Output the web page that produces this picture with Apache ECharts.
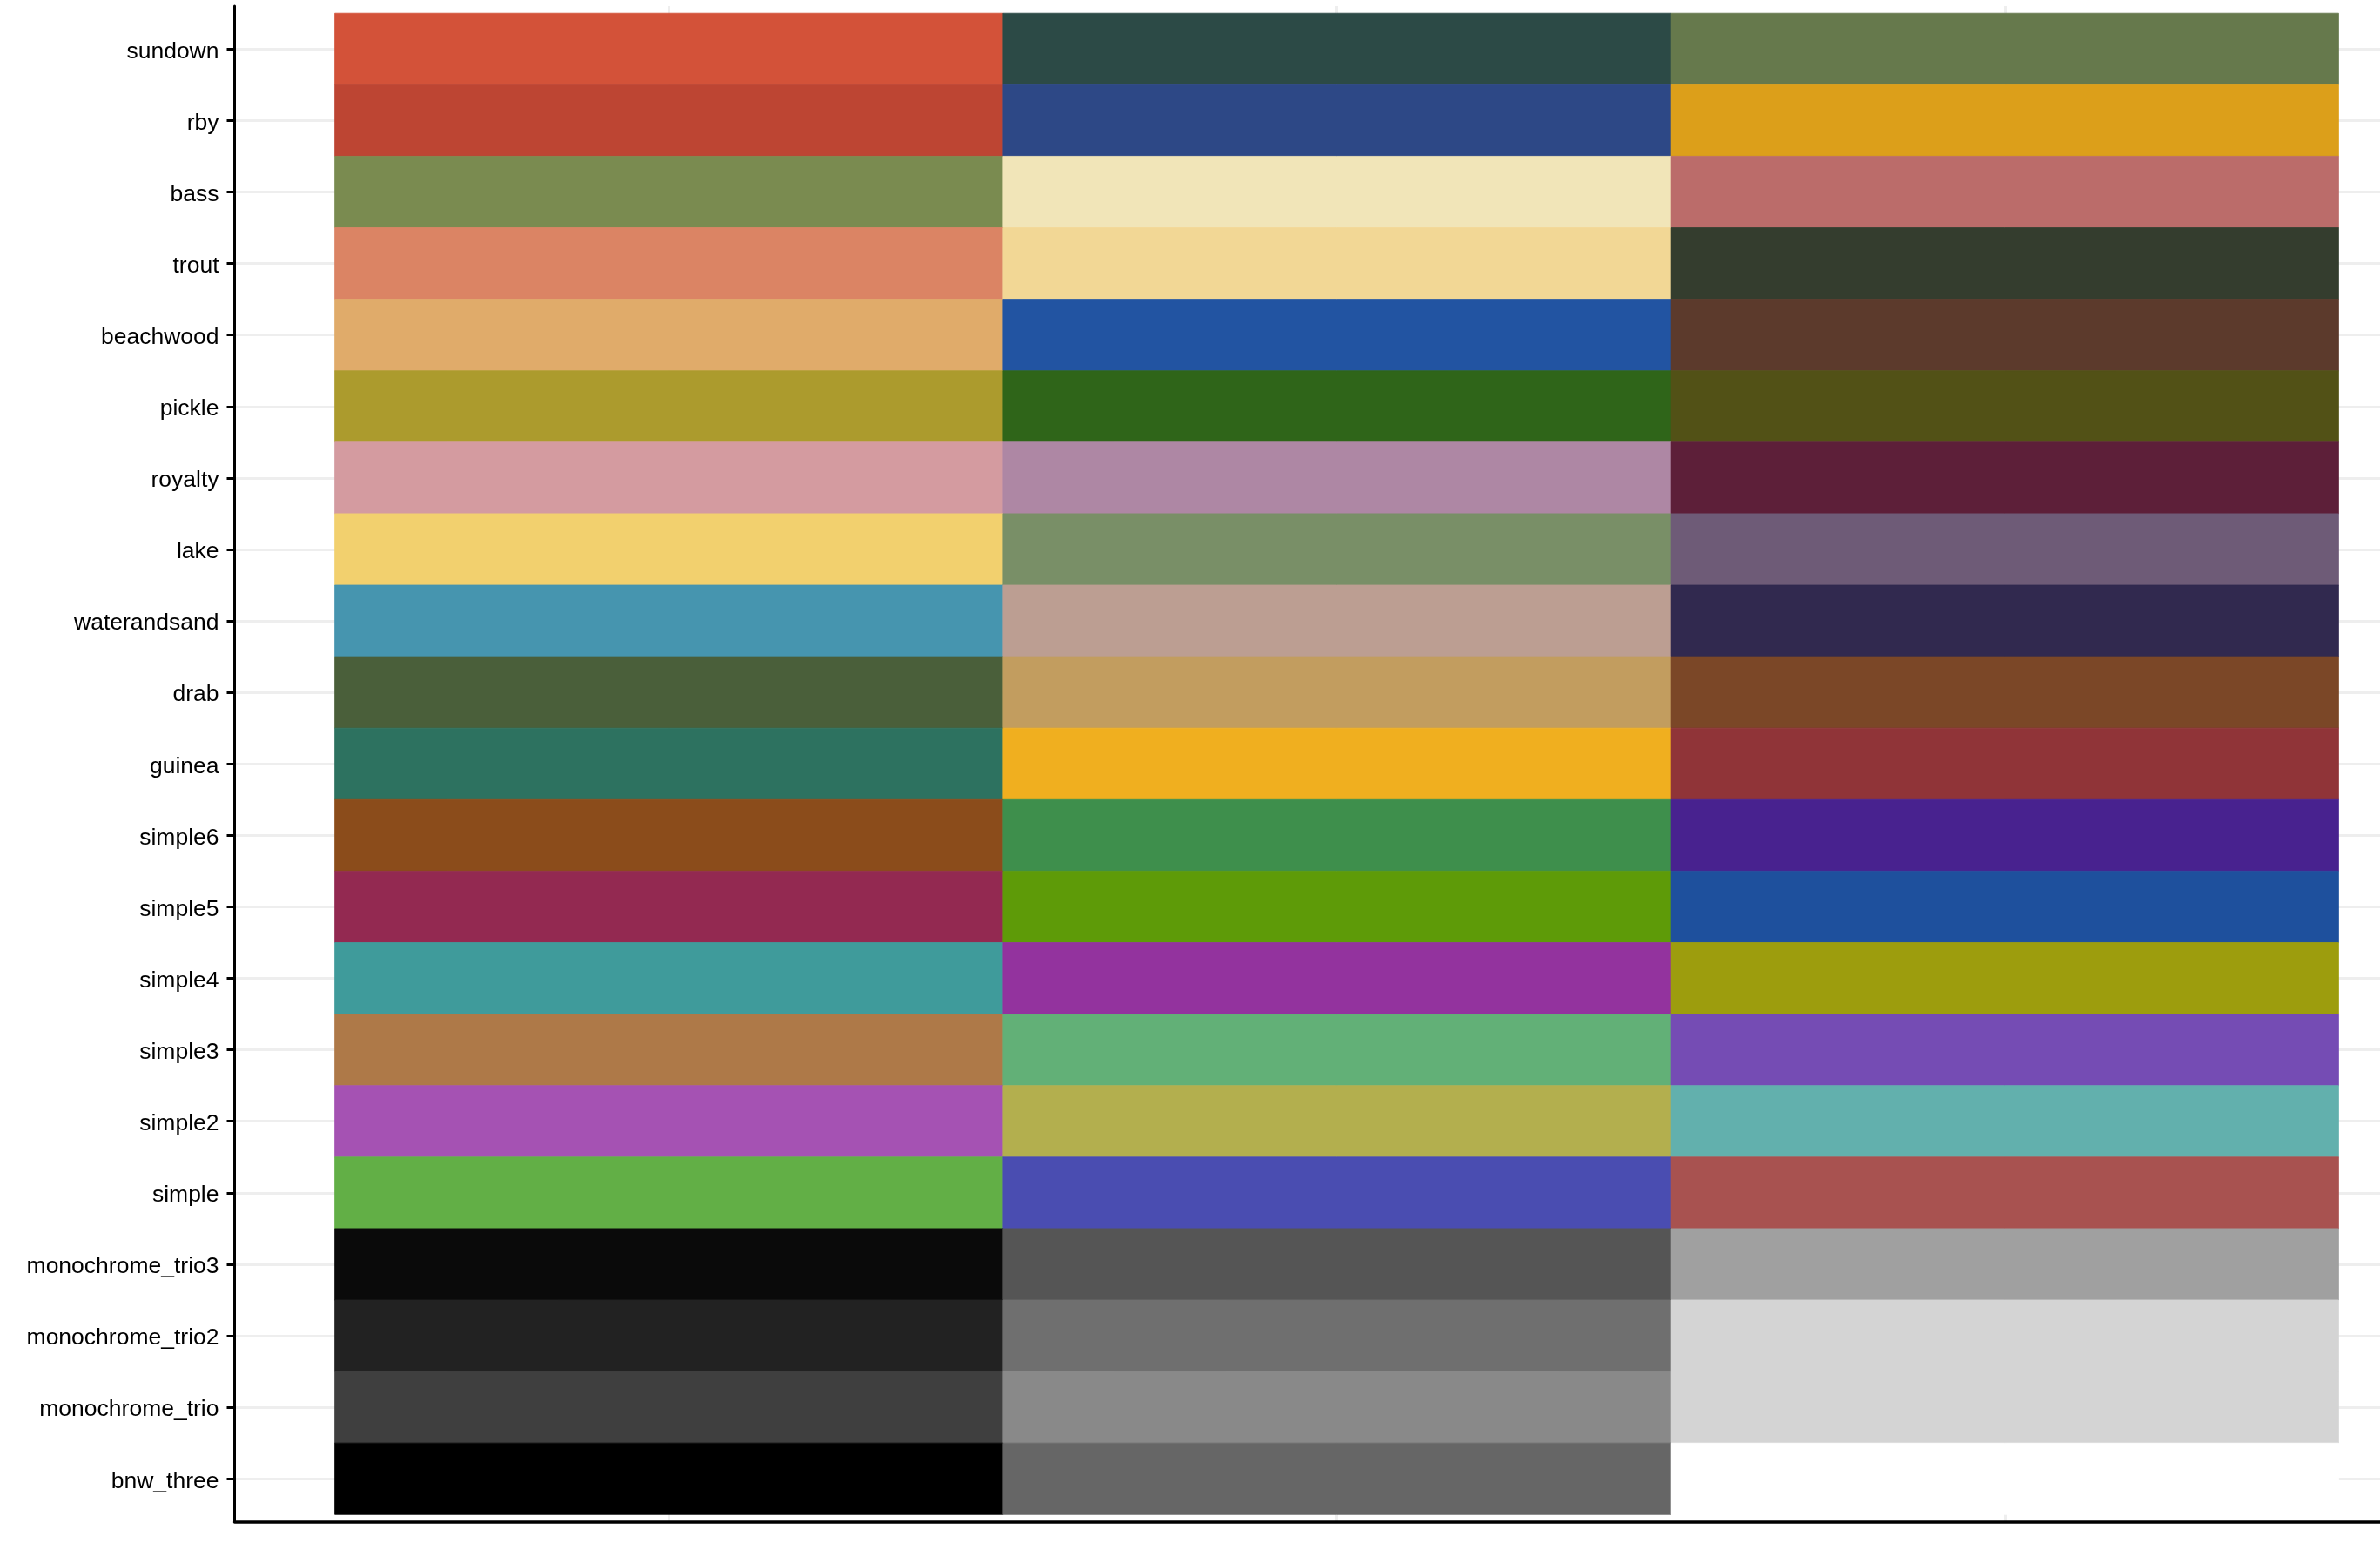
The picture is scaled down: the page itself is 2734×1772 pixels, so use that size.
<!DOCTYPE html>
<html>
<head>
<meta charset="utf-8">
<script src="https://cdn.jsdelivr.net/npm/echarts@6/dist/echarts.min.js"></script>
<style>
html,body{margin:0;padding:0;background:#fff;}
#chart{width:2734px;height:1772px;}
</style>
</head>
<body>
<div id="chart"></div>
<script>
// Palette names, top to bottom as shown
const palettes = ["sundown","rby","bass","trout","beachwood","pickle","royalty","lake",
  "waterandsand","drab","guinea","simple6","simple5","simple4","simple3","simple2",
  "simple","monochrome_trio3","monochrome_trio2","monochrome_trio","bnw_three"];
// Colour of each palette's 1st, 2nd and 3rd swatch
const color1 = ["#D35239","#BD4533","#7A8B50","#DB8464","#E0AB6A","#AC9B2D","#D49BA0","#F2D06E",
  "#4695AF","#4A5F3A","#2D7260","#8B4C1B","#932951","#3F9B9B","#AE7948","#A552B3",
  "#62AF46","#0A0A0A","#222222","#3F3F3F","#000000"];
const color2 = ["#2C4A46","#2D4886","#F1E5B8","#F2D795","#2254A2","#2F6519","#AE87A4","#798F67",
  "#BC9E92","#C29D5F","#F0AF1F","#3E8F4C","#5E9B08","#93339E","#62B077","#B3AF4E",
  "#4A4DB1","#555555","#6F6F6F","#898989","#666666"];
const color3 = ["#66794C","#DC9F1A","#BB6C6A","#343D2E","#5C3A2C","#525116","#5D1F39","#6E5B77",
  "#31294F","#7B4727","#903438","#48228F","#1E509D","#9D9D0D","#754CB4","#62B0AD",
  "#A85250","#A0A0A0","#D4D4D4","#D4D4D4","#FFFFFF"];
const swatchPositions = [1, 2, 3];

const n = palettes.length;
const rowIndex = palettes.map((_, i) => n - 1 - i); // bottom row = 0
const cols = [color1, color2, color3];
const data = [];
palettes.forEach((p, i) => {
  cols.forEach((c, j) => {
    data.push({ value: [swatchPositions[j], rowIndex[i]], itemStyle: { color: c[i] } });
  });
});
const labelByIndex = {};
palettes.forEach((p, i) => { labelByIndex[rowIndex[i]] = p; });
const yTicks = rowIndex.slice().sort((a, b) => a - b);

const chart = echarts.init(document.getElementById('chart'), null, { renderer: 'canvas' });
chart.setOption({
  animation: false,
  backgroundColor: '#ffffff',
  grid: { left: 269.5, right: 0, top: 7, bottom: 24.5, containLabel: false },
  xAxis: {
    type: 'value', min: 0.35, max: 3.562,
    axisLine: { show: true, onZero: false, lineStyle: { color: '#000', width: 3.5 } },
    axisTick: { show: false, customValues: swatchPositions },
    axisLabel: { show: false, customValues: swatchPositions },
    splitLine: { show: true, lineStyle: { color: '#EEEEEE', width: 3 } }
  },
  yAxis: {
    type: 'value', min: -0.6, max: n - 0.4,
    axisLine: { show: true, onZero: false, lineStyle: { color: '#000', width: 3 } },
    axisTick: { show: true, length: 9, lineStyle: { color: '#000', width: 3 }, customValues: yTicks },
    axisLabel: {
      show: true, customValues: yTicks, margin: 18,
      fontFamily: 'Liberation Sans, Arial, Helvetica, sans-serif', fontSize: 26.5, color: '#000',
      formatter: v => '{a|' + (labelByIndex[Math.round(v)] || '') + '}',
      rich: {
        a: {
          fontFamily: 'Liberation Sans, Arial, Helvetica, sans-serif', fontSize: 26.5, color: '#000',
          padding: [6, 0, 0, 0]
        }
      }
    },
    splitLine: { show: true, lineStyle: { color: '#EEEEEE', width: 3 } }
  },
  series: [{
    type: 'custom',
    encode: { x: 0, y: 1 },
    data: data,
    clip: true,
    renderItem: function (params, api) {
      const x = api.value(0), y = api.value(1);
      const tl = api.coord([x - 0.5, y + 0.5]);
      const br = api.coord([x + 0.5, y - 0.5]);
      const c = api.visual('color');
      return {
        type: 'rect',
        shape: { x: tl[0], y: tl[1], width: br[0] - tl[0], height: br[1] - tl[1] },
        style: { fill: c, stroke: c, lineWidth: 0.8 }
      };
    }
  }]
});
</script>
</body>
</html>
